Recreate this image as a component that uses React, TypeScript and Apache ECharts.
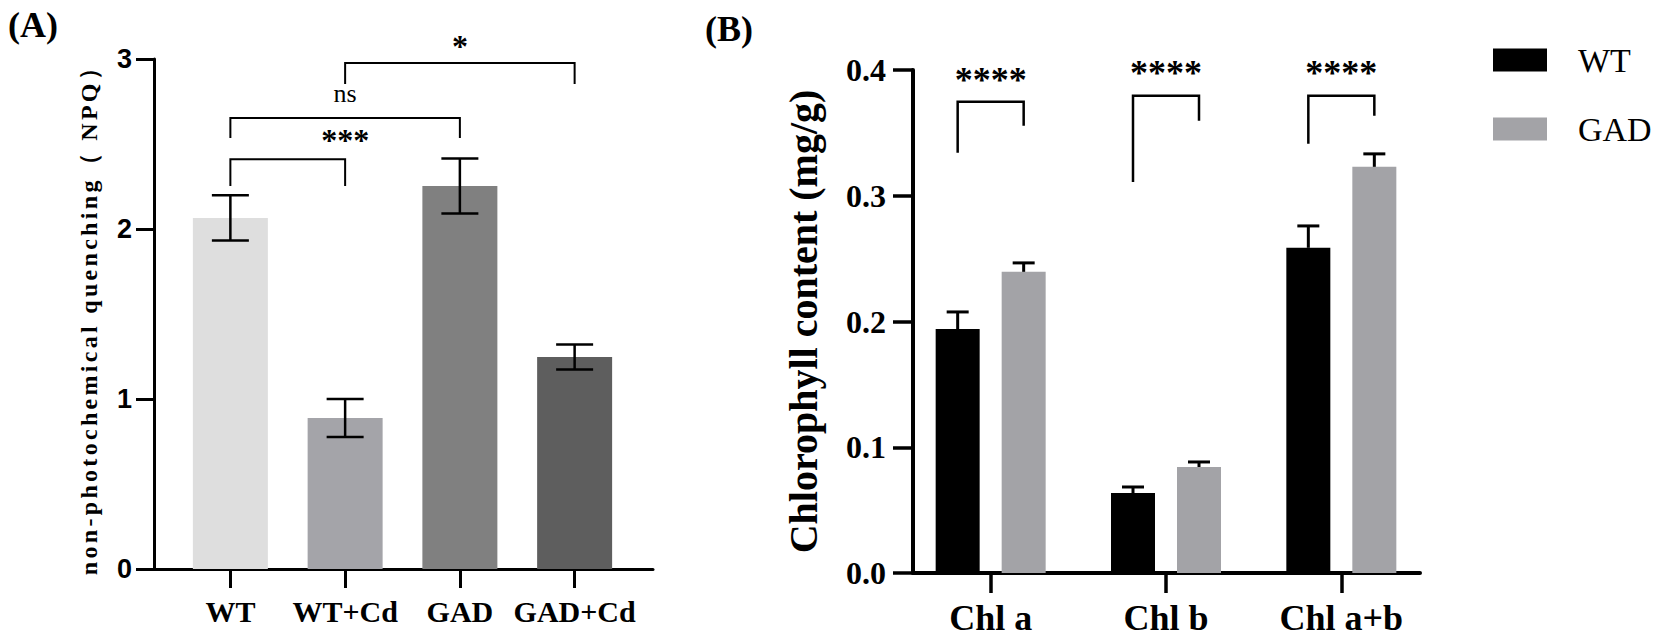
import React, { useEffect, useRef } from "react";
import * as echarts from "echarts";

// ---------- Panel A data ----------
const categoriesA = ["WT", "WT+Cd", "GAD", "GAD+Cd"];
const npqMean = [2.065, 0.888, 2.253, 1.247];
const npqErr = [0.133, 0.112, 0.162, 0.074];
const colorsA = ["#dedede", "#a4a4a9", "#808080", "#5e5e5e"];
const yTicksA = [0, 1, 2, 3];
// significance brackets: [left index, right index]
const sigPairsA = [
  [0, 1],
  [0, 2],
  [1, 3],
];
const sigLabelsA = ["***", "ns", "*"];
const sigTopA = [2.41, 2.653, 2.976];
const sigLegA = [2.253, 2.535, 2.853];
const sigTextYA = [2.524, 2.8, 3.076];

// ---------- Panel B data ----------
const categoriesB = ["Chl a", "Chl b", "Chl a+b"];
const wtB = [0.194, 0.0636, 0.2586];
const wtErrB = [0.0136, 0.0048, 0.0174];
const gadB = [0.2395, 0.0843, 0.323];
const gadErrB = [0.0071, 0.004, 0.0103];
const seriesNamesB = ["WT", "GAD"];
const yTicksB = [0, 0.1, 0.2, 0.3, 0.4];
const sigLabelsB = ["****", "****", "****"];
const sigTopB = [0.3747, 0.3795, 0.3795];
const sigLegLeftB = [0.3341, 0.311, 0.3413];
const sigLegRightB = [0.3556, 0.3596, 0.3636];
const sigTextYB = [0.3922, 0.3974, 0.3978];

const SERIF = "Liberation Serif";
const SANS = "Liberation Sans";
const BAR_W_B = 44;
const BAR_GAP_B = 22;
const OFF_B = (BAR_W_B + BAR_GAP_B) / 2;

export default function App() {
  const ref = useRef<HTMLDivElement>(null);

  useEffect(() => {
    document.body.style.margin = "0";
    const el = ref.current!;
    const chart = echarts.init(el, null, { renderer: "svg" });

    const errA = categoriesA.map((_, i) => [i, npqMean[i], npqErr[i]]);
    const bracketA = sigPairsA.map((p, i) => [p[0], p[1], sigTopA[i], sigLegA[i], sigTextYA[i]]);
    const errB: number[][] = [];
    categoriesB.forEach((_, i) => {
      errB.push([i, wtB[i], wtErrB[i], 0]);
      errB.push([i, gadB[i], gadErrB[i], 1]);
    });
    const bracketB = categoriesB.map((_, i) => [i, sigTopB[i], sigLegLeftB[i], sigLegRightB[i], sigTextYB[i]]);

    const blackLine = (w: number) => ({ stroke: "#000", lineWidth: w, fill: "none" });

    const option: any = {
      animation: false,
      title: [
        { text: "(A)", left: 3, top: 2, textStyle: { fontFamily: SERIF, fontSize: 36, fontWeight: "bold", color: "#000" } },
        { text: "(B)", left: 700, top: 6, textStyle: { fontFamily: SERIF, fontSize: 36, fontWeight: "bold", color: "#000" } },
      ],
      legend: {
        data: seriesNamesB,
        orient: "vertical",
        left: 1488,
        top: 38,
        itemWidth: 54,
        itemHeight: 23,
        itemGap: 35,
        icon: "rect",
        selectedMode: false,
        textStyle: { fontFamily: SERIF, fontSize: 34, color: "#000", padding: [0, 0, 0, 26] },
      },
      grid: [
        { left: 154, top: 59, width: 499, height: 510 },
        { left: 173, top: 59, width: 459, height: 510 },
        { left: 913, top: 70, width: 507, height: 503 },
        { left: 903, top: 70, width: 526, height: 503 },
      ],
      xAxis: [
        {
          gridIndex: 0, type: "value", min: 0, max: 1,
          axisLine: { show: true, lineStyle: { color: "#000", width: 3 } },
          axisTick: { show: false }, axisLabel: { show: false }, splitLine: { show: false },
        },
        {
          gridIndex: 1, type: "category", data: categoriesA,
          axisLine: { show: false },
          axisTick: { show: true, alignWithLabel: true, interval: 0, length: 19, lineStyle: { color: "#000", width: 3 } },
          axisLabel: { interval: 0, fontFamily: SERIF, fontSize: 30, fontWeight: "bold", color: "#000", margin: 27 },
          splitLine: { show: false },
        },
        {
          gridIndex: 2, type: "value", min: 0, max: 1,
          axisLine: { show: true, lineStyle: { color: "#000", width: 4 } },
          axisTick: { show: false }, axisLabel: { show: false }, splitLine: { show: false },
        },
        {
          gridIndex: 3, type: "category", data: categoriesB,
          axisLine: { show: false },
          axisTick: { show: true, alignWithLabel: true, interval: 0, length: 20, lineStyle: { color: "#000", width: 3.5 } },
          axisLabel: { interval: 0, fontFamily: SERIF, fontSize: 36, fontWeight: "bold", color: "#000", margin: 27 },
          splitLine: { show: false },
        },
      ],
      yAxis: [
        {
          gridIndex: 0, type: "value", min: yTicksA[0], max: yTicksA[yTicksA.length - 1], interval: 1,
          axisLine: { show: true, lineStyle: { color: "#000", width: 3 } },
          axisTick: { show: true, length: 18, lineStyle: { color: "#000", width: 3 } },
          axisLabel: { fontFamily: SANS, fontSize: 27, fontWeight: "bold", color: "#000", margin: 22 },
          splitLine: { show: false },
          name: "non-photochemical quenching（ NPQ）",
          nameLocation: "middle",
          nameGap: 53,
          nameTextStyle: { fontFamily: SERIF, fontSize: 24, fontWeight: "bold", color: "#000" },
        },
        { gridIndex: 1, type: "value", min: 0, max: 3, show: false },
        {
          gridIndex: 2, type: "value", min: yTicksB[0], max: yTicksB[yTicksB.length - 1], interval: 0.1,
          axisLine: { show: true, lineStyle: { color: "#000", width: 4 } },
          axisTick: { show: true, length: 20, lineStyle: { color: "#000", width: 3.5 } },
          axisLabel: {
            fontFamily: SERIF, fontSize: 32, fontWeight: "bold", color: "#000", margin: 27,
            formatter: (v: number) => v.toFixed(1),
          },
          splitLine: { show: false },
          name: "Chlorophyll content (mg/g)",
          nameLocation: "middle",
          nameGap: 90,
          nameTextStyle: { fontFamily: SERIF, fontSize: 40, fontWeight: "bold", color: "#000" },
        },
        { gridIndex: 3, type: "value", min: 0, max: 0.4, show: false },
      ],
      series: [
        {
          type: "bar", name: "NPQ", xAxisIndex: 1, yAxisIndex: 1, barWidth: 75,
          data: npqMean.map((v, i) => ({ value: v, itemStyle: { color: colorsA[i] } })),
        },
        {
          type: "custom", name: "NPQ error", xAxisIndex: 1, yAxisIndex: 1, z: 5,
          encode: { x: 0, y: 1 },
          data: errA,
          renderItem: (params: any, api: any) => {
            const x = api.value(0), m = api.value(1), e = api.value(2);
            const t = api.coord([x, m + e]);
            const b = api.coord([x, m - e]);
            const hw = 18.5;
            const s = blackLine(2.5);
            return {
              type: "group",
              children: [
                { type: "line", shape: { x1: t[0], y1: t[1], x2: b[0], y2: b[1] }, style: s },
                { type: "line", shape: { x1: t[0] - hw, y1: t[1], x2: t[0] + hw, y2: t[1] }, style: s },
                { type: "line", shape: { x1: b[0] - hw, y1: b[1], x2: b[0] + hw, y2: b[1] }, style: s },
              ],
            };
          },
        },
        {
          type: "custom", name: "NPQ significance", xAxisIndex: 1, yAxisIndex: 1, z: 5,
          encode: { x: 0, y: 2 },
          data: bracketA,
          renderItem: (params: any, api: any) => {
            const i1 = api.value(0), i2 = api.value(1), top = api.value(2), leg = api.value(3), ty = api.value(4);
            const pL = api.coord([i1, top]);
            const pR = api.coord([i2, top]);
            const lL = api.coord([i1, leg]);
            const tp = api.coord([(i1 + i2) / 2, ty]);
            const lab = sigLabelsA[params.dataIndex];
            const isNs = lab === "ns";
            return {
              type: "group",
              children: [
                {
                  type: "polyline",
                  shape: { points: [[pL[0], lL[1]], [pL[0], pL[1]], [pR[0], pR[1]], [pR[0], lL[1]]] },
                  style: blackLine(2),
                },
                {
                  type: "text",
                  x: tp[0], y: tp[1],
                  style: {
                    text: lab, fill: "#000", align: "center", verticalAlign: "middle",
                    fontFamily: SERIF, fontSize: isNs ? 26 : 32, fontWeight: isNs ? "normal" : "bold",
                  },
                },
              ],
            };
          },
        },
        {
          type: "bar", name: seriesNamesB[0], xAxisIndex: 3, yAxisIndex: 3, barWidth: BAR_W_B, barGap: "50%",
          itemStyle: { color: "#000000" }, data: wtB,
        },
        {
          type: "bar", name: seriesNamesB[1], xAxisIndex: 3, yAxisIndex: 3, barWidth: BAR_W_B, barGap: "50%",
          itemStyle: { color: "#a3a3a7" }, data: gadB,
        },
        {
          type: "custom", name: "Chl error", xAxisIndex: 3, yAxisIndex: 3, z: 5,
          encode: { x: 0, y: 1 },
          data: errB,
          renderItem: (params: any, api: any) => {
            const x = api.value(0), m = api.value(1), e = api.value(2), s = api.value(3);
            const off = s === 0 ? -OFF_B : OFF_B;
            const t = api.coord([x, m + e]);
            const b = api.coord([x, m]);
            const cx = t[0] + off;
            const hw = 11;
            const st = blackLine(3);
            return {
              type: "group",
              children: [
                { type: "line", shape: { x1: cx, y1: t[1], x2: cx, y2: b[1] }, style: st },
                { type: "line", shape: { x1: cx - hw, y1: t[1], x2: cx + hw, y2: t[1] }, style: st },
              ],
            };
          },
        },
        {
          type: "custom", name: "Chl significance", xAxisIndex: 3, yAxisIndex: 3, z: 5,
          encode: { x: 0, y: 1 },
          data: bracketB,
          renderItem: (params: any, api: any) => {
            const c = api.value(0), top = api.value(1), lL = api.value(2), lR = api.value(3), ty = api.value(4);
            const pt = api.coord([c, top]);
            const pl = api.coord([c, lL]);
            const pr = api.coord([c, lR]);
            const tp = api.coord([c, ty]);
            const xl = pt[0] - OFF_B, xr = pt[0] + OFF_B;
            return {
              type: "group",
              children: [
                {
                  type: "polyline",
                  shape: { points: [[xl, pl[1]], [xl, pt[1]], [xr, pt[1]], [xr, pr[1]]] },
                  style: blackLine(2.5),
                },
                {
                  type: "text",
                  x: tp[0], y: tp[1],
                  style: {
                    text: sigLabelsB[params.dataIndex], fill: "#000", align: "center", verticalAlign: "middle",
                    fontFamily: SERIF, fontSize: 36, fontWeight: "bold",
                  },
                },
              ],
            };
          },
        },
      ],
    };

    const applySpacing = () => {
      try {
        el.querySelectorAll("text").forEach((t) => {
          if (t.textContent && t.textContent.indexOf("non-photochemical") >= 0) {
            (t as any).style.letterSpacing = "3.3px";
          }
        });
      } catch (e) {
        /* ignore */
      }
    };
    chart.on("rendered", applySpacing);
    chart.setOption(option);
    applySpacing();

    return () => {
      chart.dispose();
    };
  }, []);

  return <div ref={ref} style={{ width: 1654, height: 644 }} />;
}
